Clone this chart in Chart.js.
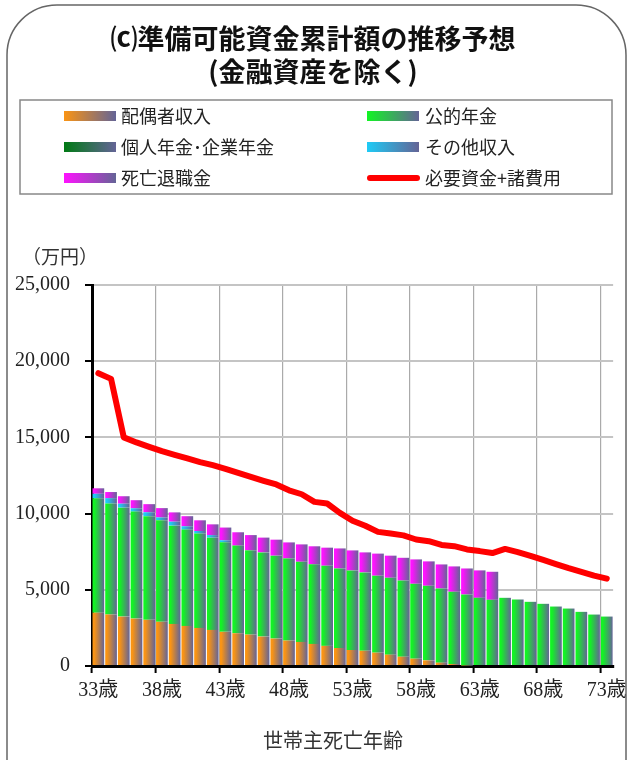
<!DOCTYPE html>
<html>
<head>
<meta charset="utf-8">
<script src="https://cdn.jsdelivr.net/npm/chart.js@4"></script>
<style>
  html, body { margin: 0; padding: 0; background: #fff; }
  #wrap { width: 633px; height: 760px; }
</style>
</head>
<body>
<div id="wrap"><canvas id="fundsChart"></canvas></div>
<script>
const ages = ['33歳','34歳','35歳','36歳','37歳','38歳','39歳','40歳','41歳','42歳',
  '43歳','44歳','45歳','46歳','47歳','48歳','49歳','50歳','51歳','52歳',
  '53歳','54歳','55歳','56歳','57歳','58歳','59歳','60歳','61歳','62歳',
  '63歳','64歳','65歳','66歳','67歳','68歳','69歳','70歳','71歳','72歳','73歳'];

const spouseIncome = [3500, 3380, 3240, 3110, 3030, 2900, 2760, 2630, 2500, 2370,
  2240, 2150, 2060, 1930, 1800, 1670, 1580, 1450, 1320, 1180,
  1050, 1000, 875, 745, 610, 480, 370, 220, 130, 40,
  0, 0, 0, 0, 0, 0, 0, 0, 0, 0, 0];
const publicPension = [7500, 7280, 7150, 7020, 6800, 6670, 6450, 6320, 6190, 6050,
  5880, 5750, 5530, 5525, 5440, 5390, 5260, 5220, 5260, 5220,
  5220, 5140, 5050, 5045, 5000, 4915, 4895, 4865, 4740, 4650,
  4474, 4343, 4474, 4363, 4211, 4080, 3902, 3770, 3553, 3376, 3244];
const privatePension = [0, 0, 0, 0, 0, 0, 0, 0, 0, 0,
  0, 0, 0, 0, 0, 0, 0, 0, 0, 0,
  0, 0, 0, 0, 0, 0, 0, 0, 0, 0,
  0, 0, 0, 0, 0, 0, 0, 0, 0, 0, 0];
const otherIncome = [300, 355, 260, 220, 260, 180, 260, 220, 170, 170,
  130, 0, 0, 0, 0, 0, 0, 0, 0, 0,
  0, 0, 0, 0, 0, 0, 0, 0, 0, 0,
  0, 0, 0, 0, 0, 0, 0, 0, 0, 0, 0];
const retirementPay = [360, 400, 490, 530, 530, 610, 610, 660, 700, 705,
  835, 875, 1000, 970, 1050, 1050, 1140, 1185, 1185, 1315,
  1315, 1315, 1450, 1450, 1490, 1600, 1600, 1580, 1665, 1710,
  1800, 1840, 0, 0, 0, 0, 0, 0, 0, 0, 0];
const requiredFunds = [19210, 18840, 15000, 14670, 14380, 14100, 13860, 13620, 13380, 13180,
  12940, 12670, 12410, 12150, 11910, 11530, 11270, 10770, 10660, 10050,
  9530, 9200, 8800, 8690, 8570, 8300, 8190, 7940, 7860, 7650,
  7540, 7410, 7680, 7475, 7230, 6960, 6690, 6420, 6180, 5930, 5730];

const GREY = 'rgb(100,100,150)';
const ORANGE = '#fa9414';
const GREEN = '#12f424';
const DARKGREEN = '#007a14';
const CYAN = '#1ecbf6';
const MAGENTA = '#ff12ff';
const BAR_PCT = 0.92;
const serif = '"Liberation Serif", "Noto Sans CJK JP", serif';
const jp = '"Noto Sans CJK JP", sans-serif';

function barFill(color) {
  return (ctx) => {
    const chart = ctx.chart;
    const xs = chart.scales.x;
    if (!xs || ctx.dataIndex === undefined) return color;
    const cx = xs.getPixelForValue(ctx.dataIndex);
    const w = xs.width / ages.length * BAR_PCT;
    if (!isFinite(cx) || !isFinite(w) || w <= 0) return color;
    const g = chart.ctx.createLinearGradient(cx - w / 2, 0, cx + w / 2, 0);
    g.addColorStop(0, color);
    g.addColorStop(0.15, color);
    g.addColorStop(1, GREY);
    return g;
  };
}

function swatch(c, x, y, color) {
  const g = c.createLinearGradient(x, 0, x + 52, 0);
  g.addColorStop(0, color);
  g.addColorStop(1, GREY);
  c.fillStyle = g;
  c.fillRect(x, y - 5, 52, 10);
}

const decor = {
  id: 'decor',
  beforeDraw(chart) {
    const c = chart.ctx;
    c.save();
    c.fillStyle = '#fff';
    c.fillRect(0, 0, chart.width, chart.height);
    c.restore();
  },
  afterDraw(chart) {
    const c = chart.ctx;
    c.save();
    // outer frame
    c.strokeStyle = '#666';
    c.lineWidth = 1.5;
    c.beginPath();
    c.moveTo(7, 800);
    c.lineTo(7, 55);
    c.arcTo(7, 5, 57, 5, 50);
    c.lineTo(576, 5);
    c.arcTo(626, 5, 626, 55, 50);
    c.lineTo(626, 800);
    c.stroke();

    // title
    c.fillStyle = '#111';
    c.textAlign = 'center';
    c.textBaseline = 'middle';
    c.font = 'bold 27px ' + jp;
    c.fillText('⒞準備可能資金累計額の推移予想', 313, 39);
    c.fillText('(金融資産を除く)', 313, 72);

    // legend box
    c.strokeStyle = '#888';
    c.lineWidth = 1.5;
    c.strokeRect(20, 100, 592, 94);
    c.font = '18px ' + jp;
    c.textAlign = 'left';
    const rows = [116, 147, 178];
    const ds = chart.data.datasets;
    const left = [ds[0], ds[2], ds[4]];
    const right = [ds[1], ds[3], ds[5]];
    left.forEach((d, i) => {
      swatch(c, 64, rows[i], d.baseColor);
      c.fillStyle = '#222';
      c.fillText(d.label, 121, rows[i]);
    });
    right.forEach((d, i) => {
      if (d.type === 'line') {
        c.strokeStyle = d.borderColor;
        c.lineWidth = 6;
        c.lineCap = 'round';
        c.beginPath();
        c.moveTo(370, rows[i]);
        c.lineTo(417, rows[i]);
        c.stroke();
      } else {
        swatch(c, 367, rows[i], d.baseColor);
      }
      c.fillStyle = '#222';
      c.fillText(d.label, 425, rows[i]);
    });

    // unit + x title
    c.fillStyle = '#333';
    c.font = '19px ' + jp;
    c.fillText('（万円）', 22, 257);
    c.textAlign = 'center';
    c.font = '20px ' + jp;
    c.fillText('世帯主死亡年齢', 333, 740);
    c.restore();
  }
};

document.addEventListener('DOMContentLoaded', () => {
  const ctx = document.getElementById('fundsChart').getContext('2d');

  new Chart(ctx, {
    type: 'bar',
    data: {
      labels: ages,
      datasets: [
        { label: '配偶者収入', data: spouseIncome, baseColor: ORANGE, backgroundColor: barFill(ORANGE), order: 1 },
        { label: '公的年金', data: publicPension, baseColor: GREEN, backgroundColor: barFill(GREEN), order: 1 },
        { label: '個人年金･企業年金', data: privatePension, baseColor: DARKGREEN, backgroundColor: barFill(DARKGREEN), order: 1 },
        { label: 'その他収入', data: otherIncome, baseColor: CYAN, backgroundColor: barFill(CYAN), order: 1 },
        { label: '死亡退職金', data: retirementPay, baseColor: MAGENTA, backgroundColor: barFill(MAGENTA), order: 1 },
        { type: 'line', label: '必要資金+諸費用', data: requiredFunds, borderColor: '#ff0000',
          borderWidth: 6, pointRadius: 0, tension: 0, borderJoinStyle: 'round', borderCapStyle: 'round', order: 0 }
      ],
    },
    options: {
      responsive: true,
      maintainAspectRatio: false,
      animation: false,
      layout: { padding: { top: 285, left: 0, right: 19, bottom: 51 } },
      datasets: { bar: { categoryPercentage: BAR_PCT, barPercentage: 1 } },
      plugins: { legend: { display: false }, tooltip: { enabled: false } },
      scales: {
        x: {
          stacked: true,
          offset: true,
          border: { color: '#000', width: 3 },
          grid: {
            offset: true,
            lineWidth: 1.2,
            tickLength: 7,
            tickWidth: 2,
            color: (c) => (c.index % 5 === 0 && c.index < ages.length) ? '#aaaaaa' : 'rgba(0,0,0,0)',
            tickColor: (c) => (c.index % 5 === 0 && c.index < ages.length) ? '#000' : 'rgba(0,0,0,0)',
          },
          ticks: {
            autoSkip: false,
            maxRotation: 0,
            padding: 6,
            color: '#222',
            font: { family: serif, size: 20 },
            callback: (v, i) => (i % 5 === 0 ? ages[i] : ''),
          },
        },
        y: {
          stacked: true,
          min: 0,
          max: 25000,
          border: { color: '#000', width: 3 },
          grid: { color: '#c4c4c4', lineWidth: 2, tickLength: 7, tickWidth: 2, tickColor: '#000' },
          ticks: {
            stepSize: 5000,
            padding: 15,
            color: '#222',
            font: { family: serif, size: 20 },
            callback: (v) => v.toLocaleString('en-US'),
          },
        },
      },
    },
    plugins: [decor],
  });
});
</script>
</body>
</html>
